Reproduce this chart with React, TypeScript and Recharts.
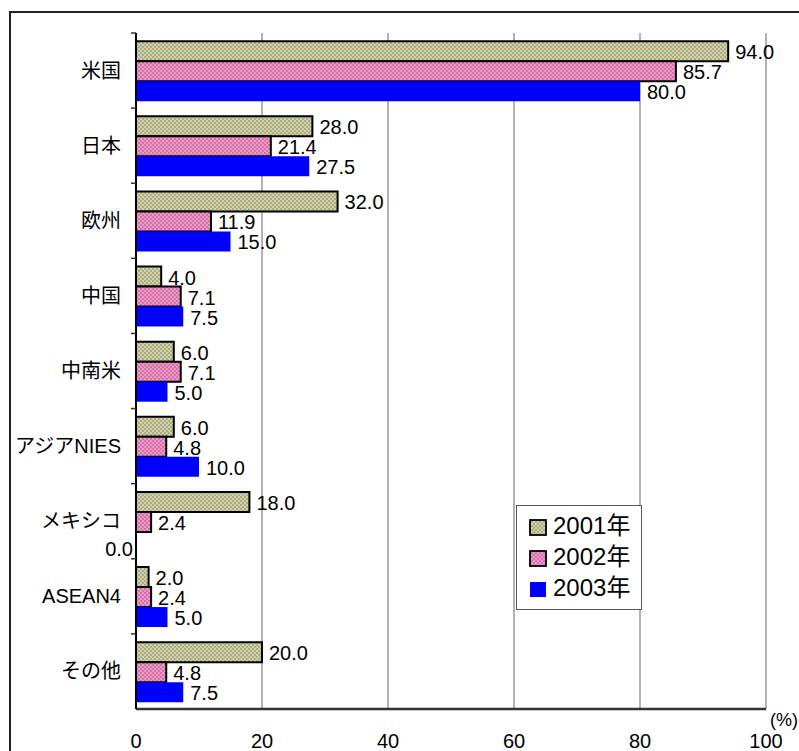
import React from 'react';
import {
  BarChart,
  Bar,
  XAxis,
  YAxis,
  CartesianGrid,
  Legend,
  LabelList,
  Label,
} from 'recharts';

// Regions and yearly shares (%)
const categories = ['米国', '日本', '欧州', '中国', '中南米', 'アジアNIES', 'メキシコ', 'ASEAN4', 'その他'];
const values2001 = [94.0, 28.0, 32.0, 4.0, 6.0, 6.0, 18.0, 2.0, 20.0];
const values2002 = [85.7, 21.4, 11.9, 7.1, 7.1, 4.8, 2.4, 2.4, 4.8];
const values2003 = [80.0, 27.5, 15.0, 7.5, 5.0, 10.0, 0.0, 5.0, 7.5];
const seriesNames = ['2001年', '2002年', '2003年'];
const xTicks = [0, 20, 40, 60, 80, 100];

const data = categories.map((name, i) => ({
  name,
  y2001: values2001[i],
  y2002: values2002[i],
  y2003: values2003[i],
}));

const W = 799;
const H = 751;
const PLOT_TOP = 33;
const PLOT_BOTTOM = 709;
const AXIS_X = 136;
const BAND = (PLOT_BOTTOM - PLOT_TOP) / categories.length;

const LATIN = '"Liberation Sans", Arial, "Noto Sans CJK JP", sans-serif';

const fills = ['url(#pat2001)', 'url(#pat2002)', '#0000ff'];
const strokes = ['#000', '#000', 'none'];

const PatternDefs = () => (
  <defs>
    <pattern id="pat2001" width="4" height="4" patternUnits="userSpaceOnUse">
      <rect width="4" height="4" fill="#d2d2aa" />
      <rect x="0" y="0" width="2" height="2" fill="#acac84" />
      <rect x="2" y="2" width="2" height="2" fill="#acac84" />
    </pattern>
    <pattern id="pat2002" width="4" height="4" patternUnits="userSpaceOnUse">
      <rect width="4" height="4" fill="#ee98c8" />
      <rect x="0" y="0" width="2" height="2" fill="#d274a8" />
      <rect x="2" y="2" width="2" height="2" fill="#d274a8" />
    </pattern>
  </defs>
);

const CategoryTick = (props: any) => {
  const { x, y, payload } = props;
  const ax = x + 15;
  return (
    <g>
      <line x1={ax - 5} x2={ax} y1={y - BAND / 2} y2={y - BAND / 2} stroke="#333" strokeWidth={1.5} />
      <text
        x={x}
        y={y}
        textAnchor="end"
        dominantBaseline="central"
        fontSize={20}
        fontFamily={LATIN}
        fill="#000"
      >
        {payload.value}
      </text>
    </g>
  );
};

const ValueTick = (props: any) => {
  const { x, y, payload } = props;
  return (
    <text x={x} y={y + 39} textAnchor="middle" fontSize={20} fontFamily={LATIN} fill="#000">
      {payload.value}
    </text>
  );
};

const ValueLabel = (props: any) => {
  const { x, y, width, height, value } = props;
  const cy = y + height / 2;
  const v = Number(value);
  const txt = v.toFixed(1);
  if (v === 0) {
    // zero-length bars get their label on the left of the axis
    return (
      <text x={x - 3} y={cy + 7} textAnchor="end" dominantBaseline="central" fontSize={20} fontFamily={LATIN} fill="#000">
        {txt}
      </text>
    );
  }
  return (
    <text x={x + width + 7} y={cy + 1} textAnchor="start" dominantBaseline="central" fontSize={20} fontFamily={LATIN} fill="#000">
      {txt}
    </text>
  );
};

const LegendBox = () => (
  <div
    style={{
      width: 126,
      height: 105,
      boxSizing: 'border-box',
      border: '1.5px solid #555',
      background: '#fff',
      paddingTop: 4,
      paddingLeft: 12,
    }}
  >
    {seriesNames.map((n, i) => (
      <div key={n} style={{ display: 'flex', alignItems: 'center', height: 31 }}>
        <svg width={19} height={18} style={{ marginRight: 5, marginTop: 4 }}>
          <rect
            x={1}
            y={1}
            width={16}
            height={15}
            fill={fills[i]}
            stroke={strokes[i]}
            strokeWidth={strokes[i] === 'none' ? 0 : 1.8}
          />
        </svg>
        <span style={{ fontFamily: LATIN, fontSize: 24, color: '#000', lineHeight: '28px' }}>{n}</span>
      </div>
    ))}
  </div>
);

export default function App() {
  return (
    <div style={{ position: 'absolute', left: 0, top: 0, width: W, height: H, overflow: 'hidden', background: '#fff' }}>
      <div
        style={{
          position: 'absolute',
          left: 9,
          top: 11,
          width: 900,
          height: 900,
          border: '2px solid #222',
          boxSizing: 'border-box',
        }}
      />
      <div style={{ position: 'absolute', left: 0, top: 0 }}>
        <BarChart
          width={W}
          height={H}
          data={data}
          layout="vertical"
          margin={{ top: PLOT_TOP, right: W - 766, bottom: H - PLOT_BOTTOM - 40, left: AXIS_X - 126 }}
          barCategoryGap="11%"
          barGap={0}
        >
          <PatternDefs />
          <CartesianGrid horizontal={false} stroke="#666" strokeWidth={1} />
          <XAxis
            type="number"
            domain={[0, 100]}
            ticks={xTicks}
            height={40}
            tickSize={0}
            tickMargin={0}
            tickLine={false}
            tick={<ValueTick />}
            axisLine={{ stroke: '#333', strokeWidth: 2.5 }}
          >
            <Label
              content={(p: any) => (
                <text
                  x={p.viewBox.x + p.viewBox.width + 4}
                  y={p.viewBox.y + 17}
                  fontSize={18}
                  fontFamily={LATIN}
                  fill="#000"
                >
                  (%)
                </text>
              )}
            />
          </XAxis>
          <XAxis
            xAxisId="top"
            orientation="top"
            type="number"
            domain={[0, 100]}
            height={0}
            tick={false}
            tickLine={false}
            axisLine={{ stroke: '#888', strokeWidth: 2 }}
          />
          <YAxis
            type="category"
            dataKey="name"
            width={126}
            tickSize={0}
            tickMargin={15}
            tickLine={false}
            interval={0}
            tick={<CategoryTick />}
            axisLine={{ stroke: '#000', strokeWidth: 2 }}
          />
          <Legend
            layout="vertical"
            align="center"
            verticalAlign="middle"
            wrapperStyle={{ position: 'absolute', left: 516, top: 505, width: 126, height: 105 }}
            content={() => <LegendBox />}
          />
          <Bar dataKey="y2001" name={seriesNames[0]} fill={fills[0]} stroke="#000" strokeWidth={2} isAnimationActive={false}>
            <LabelList dataKey="y2001" content={<ValueLabel />} />
          </Bar>
          <Bar dataKey="y2002" name={seriesNames[1]} fill={fills[1]} stroke="#000" strokeWidth={2} isAnimationActive={false}>
            <LabelList dataKey="y2002" content={<ValueLabel />} />
          </Bar>
          <Bar dataKey="y2003" name={seriesNames[2]} fill={fills[2]} minPointSize={0.01} isAnimationActive={false}>
            <LabelList dataKey="y2003" content={<ValueLabel />} />
          </Bar>
        </BarChart>
      </div>
    </div>
  );
}
